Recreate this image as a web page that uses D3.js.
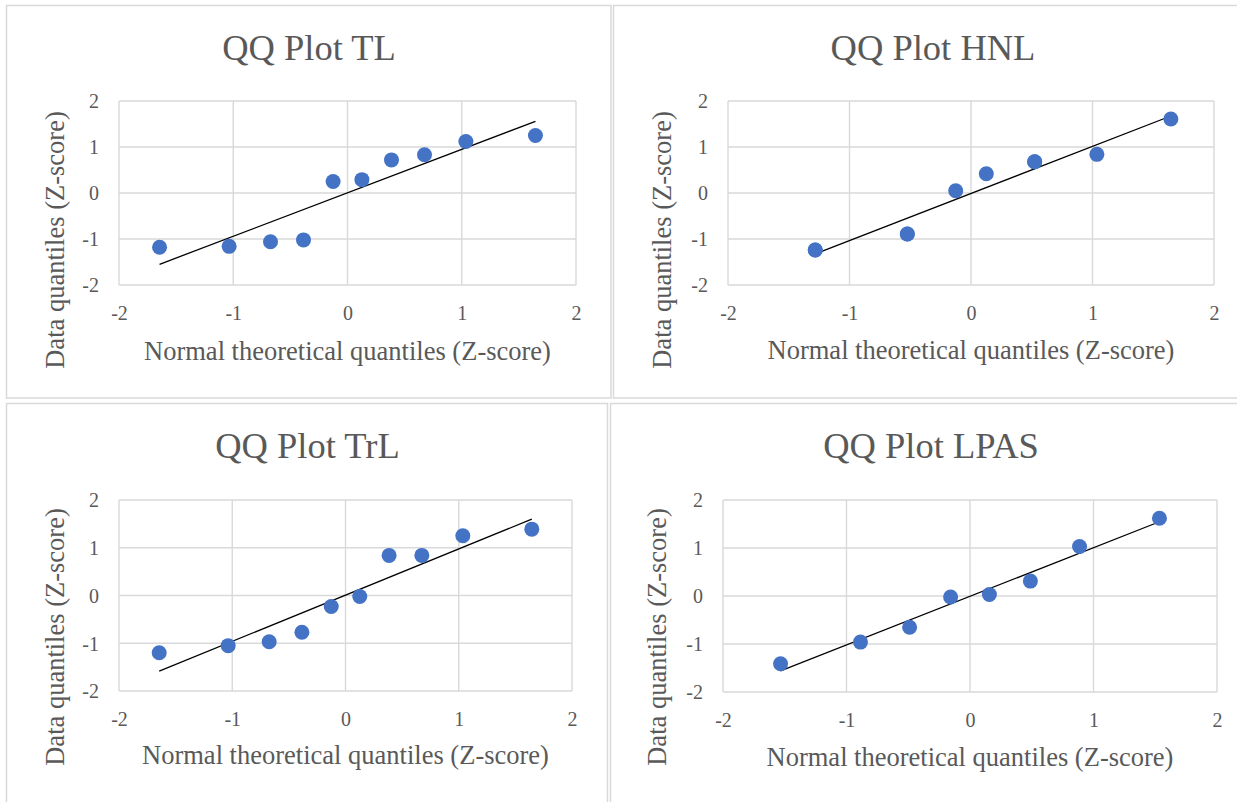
<!DOCTYPE html>
<html>
<head>
<meta charset="utf-8">
<script src="https://cdn.jsdelivr.net/npm/d3@7"></script>
<style>
  body { margin: 0; background: #fff; }
  svg { display: block; }
</style>
</head>
<body>
<svg id="chart" width="1237" height="802"></svg>
<script>
// ---- data: theoretical normal quantiles vs. standardised sample quantiles ----
const chartTitles = ["QQ Plot TL", "QQ Plot HNL", "QQ Plot TrL", "QQ Plot LPAS"];

const tlTheoretical = [-1.645, -1.036, -0.674, -0.385, -0.126, 0.126, 0.385, 0.674, 1.036, 1.645];
const tlSample      = [-1.18, -1.16, -1.06, -1.02, 0.25, 0.29, 0.72, 0.83, 1.12, 1.25];

// tied observations share a position, so some points repeat
const hnlTheoretical = [-1.282, -1.282, -0.524, -0.524, -0.126, 0.126, 0.524, 0.524, 1.036, 1.645];
const hnlSample      = [-1.24, -1.24, -0.89, -0.89, 0.05, 0.42, 0.68, 0.68, 0.84, 1.61];

const trlTheoretical = [-1.645, -1.036, -0.674, -0.385, -0.126, 0.126, 0.385, 0.674, 1.036, 1.645];
const trlSample      = [-1.20, -1.05, -0.97, -0.77, -0.23, -0.02, 0.84, 0.84, 1.25, 1.39];

const lpasTheoretical = [-1.534, -0.887, -0.489, -0.157, 0.157, 0.489, 0.887, 1.534];
const lpasSample      = [-1.41, -0.96, -0.65, -0.02, 0.03, 0.31, 1.03, 1.62];

const axisTicks = [-2, -1, 0, 1, 2];
const xAxisLabel = "Normal theoretical quantiles (Z-score)";
const yAxisLabel = "Data quantiles (Z-score)";

// ---- layout of the four chart panels ----
const layout = [
  { box: [6.5, 5.5, 611, 398],    plot: [119, 101, 576, 285],  titleX: 309,   titleY: 60,  xLabY: 360, yLabX: 64,  yLabY: 240 },
  { box: [613.5, 5.5, 1262, 398], plot: [728, 101, 1214, 285], titleX: 933,   titleY: 60,  xLabY: 359, yLabX: 671, yLabY: 240 },
  { box: [6.5, 403.5, 607.5, 840], plot: [119, 500, 572, 691], titleX: 307.5, titleY: 458, xLabY: 764, yLabX: 64,  yLabY: 637 },
  { box: [610.5, 403.5, 1262, 840], plot: [723, 500, 1217, 692], titleX: 931, titleY: 458, xLabY: 766, yLabX: 666, yLabY: 637 }
];

const series = [
  { x: tlTheoretical,   y: tlSample },
  { x: hnlTheoretical,  y: hnlSample },
  { x: trlTheoretical,  y: trlSample },
  { x: lpasTheoretical, y: lpasSample }
];

const FONT = "'Liberation Serif', 'Times New Roman', serif";
const TEXT = "#595959";
const GRID = "#d9d9d9";
const DOT = "#4472C4";

const svg = d3.select("#chart");

// least-squares line through a set of points
function linearFit(xs, ys) {
  const mx = d3.mean(xs), my = d3.mean(ys);
  let sxy = 0, sxx = 0;
  xs.forEach((x, i) => { sxy += (x - mx) * (ys[i] - my); sxx += (x - mx) * (x - mx); });
  const slope = sxy / sxx;
  return x => my + slope * (x - mx);
}

series.forEach((s, k) => {
  const L = layout[k];
  const g = svg.append("g");

  // panel frame
  g.append("rect")
    .attr("x", L.box[0]).attr("y", L.box[1])
    .attr("width", L.box[2] - L.box[0]).attr("height", L.box[3] - L.box[1])
    .attr("fill", "#fff").attr("stroke", GRID).attr("stroke-width", 1.5);

  const x = d3.scaleLinear().domain([-2, 2]).range([L.plot[0], L.plot[2]]);
  const y = d3.scaleLinear().domain([-2, 2]).range([L.plot[3], L.plot[1]]);

  // gridlines (outermost ones form the plot-area frame)
  g.append("g").selectAll("line.v").data(axisTicks).join("line")
    .attr("x1", d => x(d)).attr("x2", d => x(d))
    .attr("y1", y(-2)).attr("y2", y(2))
    .attr("stroke", GRID).attr("stroke-width", 1.4);
  g.append("g").selectAll("line.h").data(axisTicks).join("line")
    .attr("x1", x(-2)).attr("x2", x(2))
    .attr("y1", d => y(d)).attr("y2", d => y(d))
    .attr("stroke", GRID).attr("stroke-width", 1.4);

  // tick labels
  const xAxis = d3.axisBottom(x).tickValues(axisTicks).tickSize(0).tickPadding(0).tickFormat(d => String(d));
  const xa = g.append("g").attr("transform", `translate(0,${L.plot[3]})`).call(xAxis);
  xa.select(".domain").remove();
  xa.selectAll("text").attr("y", 35).attr("dy", 0)
    .style("font-family", FONT).style("font-size", "20px").attr("fill", TEXT);

  const yAxis = d3.axisLeft(y).tickValues(axisTicks).tickSize(0).tickPadding(20).tickFormat(d => String(d));
  const ya = g.append("g").attr("transform", `translate(${L.plot[0]},0)`).call(yAxis);
  ya.select(".domain").remove();
  ya.selectAll("text").attr("dy", "0.34em")
    .style("font-family", FONT).style("font-size", "20px").attr("fill", TEXT);

  // trend line across the observed range
  const fit = linearFit(s.x, s.y);
  const [x0, x1] = d3.extent(s.x);
  g.append("line")
    .attr("x1", x(x0)).attr("y1", y(fit(x0)))
    .attr("x2", x(x1)).attr("y2", y(fit(x1)))
    .attr("stroke", "#000").attr("stroke-width", 1.3);

  // points
  g.append("g").selectAll("circle").data(s.x.map((v, i) => [v, s.y[i]])).join("circle")
    .attr("cx", d => x(d[0])).attr("cy", d => y(d[1])).attr("r", 7.5)
    .attr("fill", DOT);

  // titles
  g.append("text").attr("x", L.titleX).attr("y", L.titleY).attr("text-anchor", "middle")
    .style("font-family", FONT).style("font-size", "36.5px").attr("fill", TEXT)
    .text(chartTitles[k]);

  g.append("text").attr("x", (L.plot[0] + L.plot[2]) / 2).attr("y", L.xLabY).attr("text-anchor", "middle")
    .style("font-family", FONT).style("font-size", "26.5px").attr("fill", TEXT)
    .text(xAxisLabel);

  g.append("text").attr("transform", `translate(${L.yLabX},${L.yLabY}) rotate(-90)`).attr("text-anchor", "middle")
    .style("font-family", FONT).style("font-size", "26.5px").attr("fill", TEXT)
    .text(yAxisLabel);
});
</script>
</body>
</html>
